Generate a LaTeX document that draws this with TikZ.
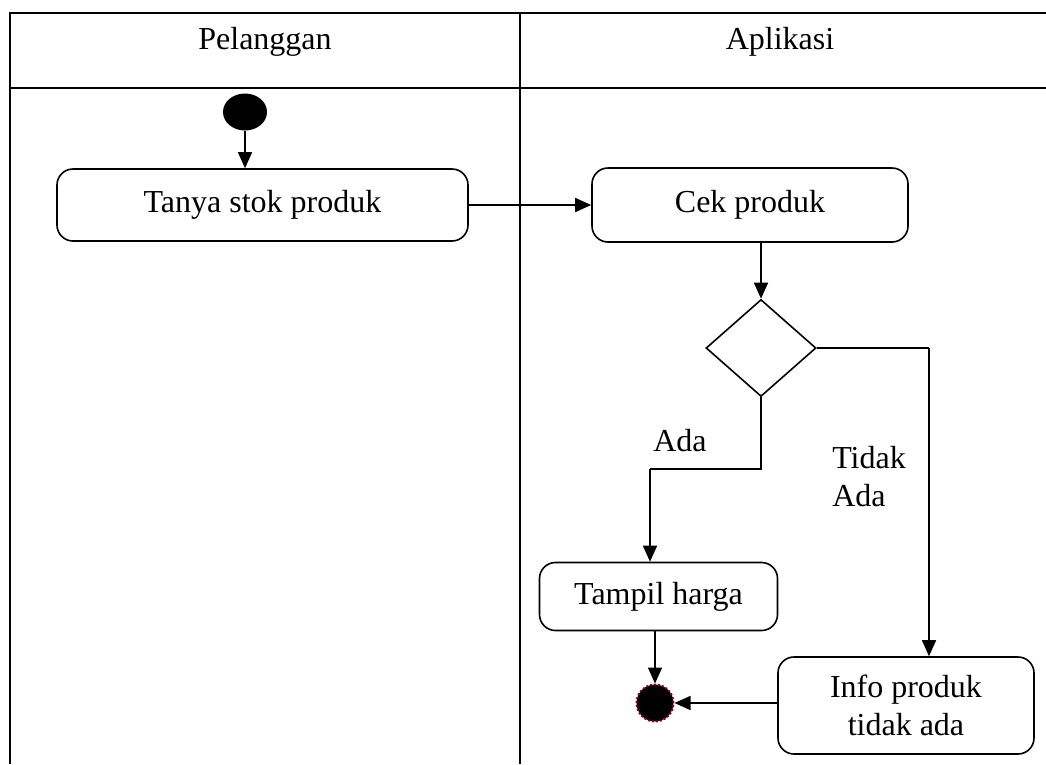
\documentclass[tikz,border=0pt]{standalone}
\usepackage{fontspec}
\setmainfont{Liberation Serif}
\usetikzlibrary{shapes.geometric,arrows.meta}
\definecolor{endred}{RGB}{140,0,30}
\begin{document}
\begin{tikzpicture}[x=1pt,y=-1pt,
  every node/.style={font=\fontsize{32}{38}\selectfont},
  frame/.style={line width=2pt},
  actbox/.style={draw,line width=1.6pt,rounded corners=16pt,inner sep=0pt,align=center},
  flow/.style={line width=1.6pt,-{Triangle[length=16pt,width=14pt]}},
  plain/.style={line width=1.6pt},
  lbl/.style={inner sep=0pt,align=left}]
\useasboundingbox (0,0) rectangle (1046,764);
% swimlane frame
\draw[frame] (10,764) -- (10,13) -- (1046,13);
\draw[frame] (10,88) -- (1046,88);
\draw[frame] (520,13) -- (520,764);
\node (h1) at (265,42) {Pelanggan};
\node (h2) at (780,42) {Aplikasi};
% nodes
\node[ellipse,fill=black,minimum width=44pt,minimum height=37pt,inner sep=0pt] (start) at (245,112) {};
\node[actbox,minimum width=411pt,minimum height=72pt] (tanya) at (262.5,205) {Tanya stok produk};
\node[actbox,minimum width=316pt,minimum height=74pt] (cek) at (750,205) {Cek produk};
\node[diamond,draw,line width=1.6pt,minimum width=110pt,minimum height=97pt,inner sep=0pt] (dia) at (761,348) {};
\node[actbox,minimum width=238pt,minimum height=68pt] (tampil) at (658.5,596.5) {Tampil harga};
\node[actbox,minimum width=256pt,minimum height=97pt] (info) at (906,705.5) {Info produk\\tidak ada};
\node[circle,fill=black,draw=endred,line width=2pt,dash pattern=on 2pt off 2pt,minimum size=37pt,inner sep=0pt] (end) at (655,703) {};
\node[lbl] (ada) at (680,441) {Ada};
\node[lbl] (tidak) at (869,477) {Tidak\\Ada};
% connectors
\coordinate (k1) at (650,469);
\coordinate (k2) at (929,348);
\draw[flow] (start.south) -- (start.south |- tanya.north);
\draw[flow] (tanya.east) -- (cek.west);
\draw[flow] (dia.north |- cek.south) -- (dia.north);
\draw[plain] (dia.south) |- (k1);
\draw[flow] (k1) -- (k1 |- tampil.north);
\draw[plain] (dia.east) -- (k2);
\draw[flow] (k2) -- (k2 |- info.north);
\draw[flow] (end.north |- tampil.south) -- (end.north);
\draw[flow] (info.west |- end.east) -- (end.east);
\end{tikzpicture}
\end{document}
